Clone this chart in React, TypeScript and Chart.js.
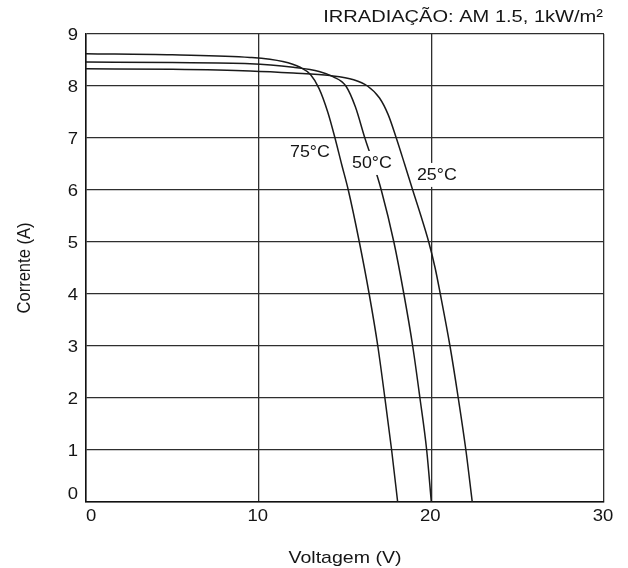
import React, { useEffect, useRef } from "react";
import { Chart, registerables } from "chart.js";

Chart.register(...registerables);

// Data (Voltage V, Current A)
const volt75 = [0, 5, 9.5, 11.4, 12.4, 13.0, 13.5, 14.0, 14.42, 14.8, 15.19, 15.83, 16.4, 16.9, 17.31, 17.7, 18.05];
const curr75 = [8.62, 8.6, 8.55, 8.47, 8.36, 8.22, 7.95, 7.5, 7.0, 6.5, 6.0, 5.0, 4.0, 3.0, 2.0, 1.0, 0];

const volt50 = [0, 5, 9.5, 12, 13.5, 14.3, 15.05, 15.6, 16.15, 16.65, 17.1, 17.83, 18.41, 18.92, 19.34, 19.73, 20.0];
const curr50 = [8.46, 8.45, 8.43, 8.36, 8.28, 8.18, 8.0, 7.6, 7.0, 6.5, 6.0, 5.0, 4.0, 3.0, 2.0, 1.0, 0];

const volt25 = [0, 5, 9.5, 12, 14.13, 15.5, 16.3, 17.0, 17.5, 17.97, 18.45, 18.92, 19.4, 19.85, 20.22, 20.52, 21.08, 21.56, 22.0, 22.37];
const curr25 = [8.33, 8.32, 8.29, 8.25, 8.2, 8.12, 8.0, 7.77, 7.45, 7.0, 6.5, 6.0, 5.5, 5.0, 4.5, 4.0, 3.0, 2.0, 1.0, 0];

const seriesNames = ["75°C", "50°C", "25°C"];
// label anchors in data units (V, A)
const labelVolt = [12.97, 16.56, 20.32];
const labelCurr = [6.73, 6.52, 6.29];

const xTickValues = [0, 10, 20, 30];
const yTickValues = [0, 1, 2, 3, 4, 5, 6, 7, 8, 9];

const chartTitle = "IRRADIAÇÃO: AM 1.5, 1kW/m²";
const xAxisTitle = "Voltagem (V)";
const yAxisTitle = "Corrente (A)";

const FONT = "'Liberation Sans', Arial, Helvetica, sans-serif";
const TEXT = "#151515";

const toPoints = (xs: number[], ys: number[]) => xs.map((x, i) => ({ x, y: ys[i] }));

function drawText(ctx: any, text: string, x: number, y: number, align: string, size: number, sx: number, base = "middle") {
  ctx.save();
  ctx.font = `${size}px ${FONT}`;
  ctx.fillStyle = TEXT;
  ctx.textAlign = align;
  ctx.textBaseline = base;
  ctx.translate(x, y);
  ctx.scale(sx, 1);
  ctx.fillText(text, 0, 0);
  ctx.restore();
}

export default function App() {
  const ref = useRef<HTMLCanvasElement | null>(null);

  useEffect(() => {
    if (!ref.current) return;
    const decor = {
      id: "decor",
      afterDatasetsDraw(chart: any) {
        const ctx = chart.ctx;
        const xs = chart.scales.x;
        const ys = chart.scales.y;
        seriesNames.forEach((name, i) => {
          const px = xs.getPixelForValue(labelVolt[i]);
          const py = ys.getPixelForValue(labelCurr[i]);
          ctx.save();
          ctx.font = `17px ${FONT}`;
          const w = ctx.measureText(name).width * 1.05;
          ctx.fillStyle = "#ffffff";
          ctx.fillRect(px - w / 2 - 2, py - 12, w + 4, 24);
          ctx.restore();
          drawText(ctx, name, px, py, "center", 17, 1.05);
        });
      },
      afterDraw(chart: any) {
        const ctx = chart.ctx;
        const a = chart.chartArea;
        const xs = chart.scales.x;
        const ys = chart.scales.y;
        // tick labels
        xTickValues.forEach((v, i) => {
          const px = xs.getPixelForValue(v);
          if (i === 0) drawText(ctx, String(v), px, 516, "left", 16.5, 1.12);
          else drawText(ctx, String(v), px - 1, 516, "center", 16.5, 1.12);
        });
        yTickValues.forEach((v, i) => {
          const py = ys.getPixelForValue(v);
          if (i === 0) drawText(ctx, String(v), 78, py + 1, "right", 16.5, 1.12, "bottom");
          else drawText(ctx, String(v), 78, py + 1, "right", 16.5, 1.12);
        });
        // titles
        drawText(ctx, chartTitle, a.right - 1, 17, "right", 17, 1.18);
        drawText(ctx, xAxisTitle, (a.left + a.right) / 2, 558, "center", 17, 1.15);
        ctx.save();
        ctx.font = `16.5px ${FONT}`;
        ctx.fillStyle = TEXT;
        ctx.textAlign = "center";
        ctx.textBaseline = "middle";
        ctx.translate(25, (a.top + a.bottom) / 2);
        ctx.scale(1.1, 1);
        ctx.rotate(-Math.PI / 2);
        ctx.fillText(yAxisTitle, 0, 0);
        ctx.restore();
      },
    };

    const mk = (xs: number[], ys: number[]) => ({
      data: toPoints(xs, ys),
      showLine: true,
      borderColor: "#1a1a1a",
      borderWidth: 1.5,
      pointRadius: 0,
      fill: false,
      cubicInterpolationMode: "monotone" as const,
    });

    const chart = new Chart(ref.current, {
      type: "scatter",
      data: {
        datasets: [mk(volt75, curr75), mk(volt50, curr50), mk(volt25, curr25)],
      },
      options: {
        animation: false,
        responsive: false,
        layout: { padding: { top: 34, right: 24, left: 0, bottom: 0 } },
        plugins: { legend: { display: false }, tooltip: { enabled: false }, title: { display: false } },
        scales: {
          x: {
            type: "linear",
            min: xTickValues[0],
            max: xTickValues[xTickValues.length - 1],
            ticks: { stepSize: 10, display: false },
            grid: { color: "#2e2e2e", lineWidth: 1.3, drawTicks: false },
            border: { color: "#111111", width: 1.5 },
            afterFit: (s: any) => { s.height = 66; },
          },
          y: {
            type: "linear",
            min: yTickValues[0],
            max: yTickValues[yTickValues.length - 1],
            ticks: { stepSize: 1, display: false },
            grid: { color: "#2e2e2e", lineWidth: 1.3, drawTicks: false },
            border: { color: "#111111", width: 1.5 },
            afterFit: (s: any) => { s.width = 86; },
          },
        },
      },
      plugins: [decor],
    });
    return () => chart.destroy();
  }, []);

  return (
    <div style={{ position: "absolute", left: 0, top: 0, width: 628, height: 568, background: "#fff" }}>
      <canvas ref={ref} width={628} height={568} style={{ width: 628, height: 568 }} />
    </div>
  );
}
